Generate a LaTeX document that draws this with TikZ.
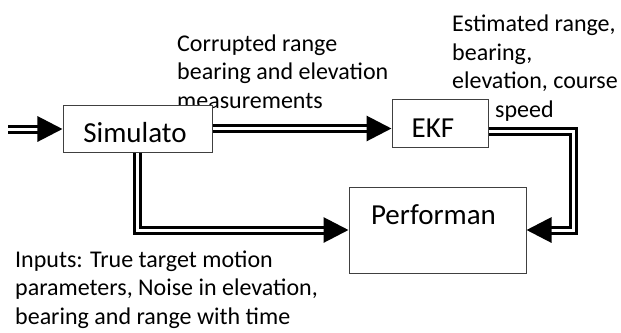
\documentclass[tikz,border=0pt]{standalone}
\usepackage{fontspec}
\setmainfont{Carlito}
\usetikzlibrary{arrows.meta}
\begin{document}
\begin{tikzpicture}[x=1bp,y=-1bp,
  boxst/.style={draw=black!75,line width=1bp,fill=white,inner sep=0,rectangle},
  lbl/.style={anchor=base west,inner sep=0,align=left,font=\fontsize{24bp}{28.5bp}\selectfont},
  btxt/.style={anchor=base,inner sep=0,font=\fontsize{29bp}{32bp}\selectfont},
  dbl/.style={draw=black,double=white,line width=3bp,double distance=3bp,-{Triangle[length=25bp,width=25bp]}},
]
\useasboundingbox (0,0) rectangle (621,332);
% labels (anchored at the baseline of their last line)
\node[lbl] (corr) at (177,108) {Corrupted range\\bearing and elevation\\measurements};
\node[lbl] (est) at (452,88.5) {Estimated range,\\bearing,\\elevation, course};
\node[lbl] (spd) at (495,117) {speed};
\node[lbl] (inp) at (15,324) {Inputs: True target motion\\parameters, Noise in elevation,\\bearing and range with time};
% boxes
\node[boxst,minimum width=149bp,minimum height=47bp] (sim) at (137.5,128.5) {};
\node[boxst,minimum width=96bp,minimum height=48bp] (ekf) at (440,123) {};
\node[boxst,minimum width=177bp,minimum height=86bp] (perf) at (437.5,230) {};
\node[btxt] (simt) at (135,142) {Simulato};
\node[btxt] (ekft) at (433,137) {EKF};
\node[btxt] (perft) at (433.5,224) {Performan};
% connectors
\coordinate (in) at (8,129);
\coordinate (c1) at (573,131);
\draw[dbl] (in) -- (in -| sim.west);
\draw[dbl] (sim.east) -- (sim.east -| ekf.west);
\draw[dbl] ([yshift=-8.5bp]ekf.east) -| (c1 |- perf.east) -- (perf.east);
\draw[dbl] (sim.south) |- (perf.west);
\end{tikzpicture}
\end{document}
